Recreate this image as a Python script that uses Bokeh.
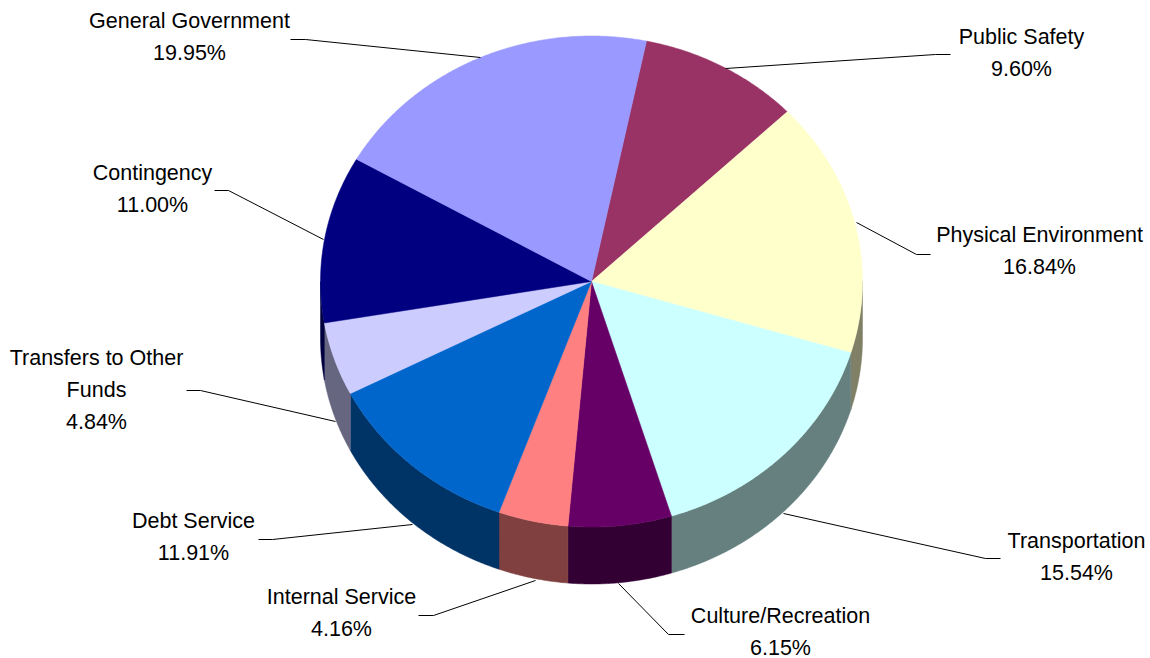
import numpy as np
from bokeh.embed import file_html
from bokeh.models import ColumnDataSource, Range1d
from bokeh.plotting import figure
from bokeh.resources import INLINE
from bokeh.core.properties import value

# Budget shares, clockwise from the Public Safety wedge
categories = ["Public Safety", "Physical Environment", "Transportation", "Culture/Recreation",
              "Internal Service", "Debt Service", "Transfers to Other Funds", "Contingency",
              "General Government"]
shares = [9.60, 16.84, 15.54, 6.15, 4.16, 11.91, 4.84, 11.00, 19.95]
top_colors = ["#993366", "#FFFFCC", "#CCFFFF", "#660066", "#FF8080", "#0066CC", "#CCCCFF", "#000080", "#9999FF"]
wall_colors = ["#4D1A33", "#808066", "#668080", "#330033", "#804040", "#003366", "#666680", "#000040", "#4D4D80"]

# Label placement: wrapped name lines, anchor x and first line centre
label_lines = [["Public Safety"], ["Physical Environment"], ["Transportation"], ["Culture/Recreation"],
               ["Internal Service"], ["Debt Service"], ["Transfers to Other", "Funds"], ["Contingency"],
               ["General Government"]]
label_x = [1021, 1039, 1076, 780, 341, 193, 96, 152, 189]
label_y = [36, 234, 540, 615, 596, 520, 357, 172, 20]
line_step = 32

# Leader lines from each wedge to its label
leader_xs = [[725, 935, 950], [856, 916, 930], [783, 985, 1000], [618, 668, 684], [535, 433, 418],
             [412, 272, 258], [335, 200, 186], [323, 228, 214], [480, 305, 290]]
leader_ys = [[68, 54, 54], [222, 254, 254], [513, 558, 558], [583, 634, 634], [580, 615, 615],
             [524, 539, 539], [421, 390, 390], [239, 190, 190], [57, 39, 39]]

CX, CY, RX, RY, DEPTH = 591, 281, 271, 245.5, 57
START_ANGLE = 11.7
FONT = value("Liberation Sans")


def rim(a0, a1):
    """Points on the tilted disc's edge between two clockwise angles from 12 o'clock."""
    t = np.radians(np.linspace(a0, a1, max(int(abs(a1 - a0) * 2), 2)))
    return CX + RX * np.sin(t), CY - RY * np.cos(t)


p = figure(width=1150, height=658, output_backend="svg", toolbar_location=None,
           x_range=Range1d(0, 1150), y_range=Range1d(658, 0), min_border=0,
           outline_line_color=None, background_fill_color="white", border_fill_color="white")
p.axis.visible = False
p.grid.visible = False

edges = START_ANGLE + np.cumsum([0] + shares) * 360 / sum(shares)

# Outer wall: only the part of the rim facing the viewer (90 to 270 degrees)
wall_x, wall_y, wall_c = [], [], []
for a0, a1, c in zip(edges[:-1], edges[1:], wall_colors):
    lo, hi = max(a0, 90), min(a1, 270)
    if hi <= lo:
        continue
    x, y = rim(lo, hi)
    wall_x.append(np.r_[x, x[::-1]])
    wall_y.append(np.r_[y, y[::-1] + DEPTH])
    wall_c.append(c)
p.patches(wall_x, wall_y, fill_color=wall_c, line_color=wall_c, line_width=0.5)

# Top face wedges
top_x, top_y = [], []
for a0, a1 in zip(edges[:-1], edges[1:]):
    x, y = rim(a0, a1)
    top_x.append(np.r_[CX, x])
    top_y.append(np.r_[CY, y])
p.patches(top_x, top_y, fill_color=top_colors, line_color=top_colors, line_width=0.5)

p.multi_line(leader_xs, leader_ys, line_color="black", line_width=1)

# Labels: one glyph per wrapped line, with the percentage on the last row
tx, ty, tt = [], [], []
for lines, x, y, s in zip(label_lines, label_x, label_y, shares):
    rows = lines + [f"{s:.2f}%"]
    for i, row in enumerate(rows):
        tx.append(x)
        ty.append(y + i * line_step)
        tt.append(row)
p.text(x="x", y="y", text="t", source=ColumnDataSource(dict(x=tx, y=ty, t=tt)),
       text_font=FONT, text_font_size="21.5px", text_color="black",
       text_align="center", text_baseline="middle")

open("out.html", "w").write(file_html(p, INLINE))
